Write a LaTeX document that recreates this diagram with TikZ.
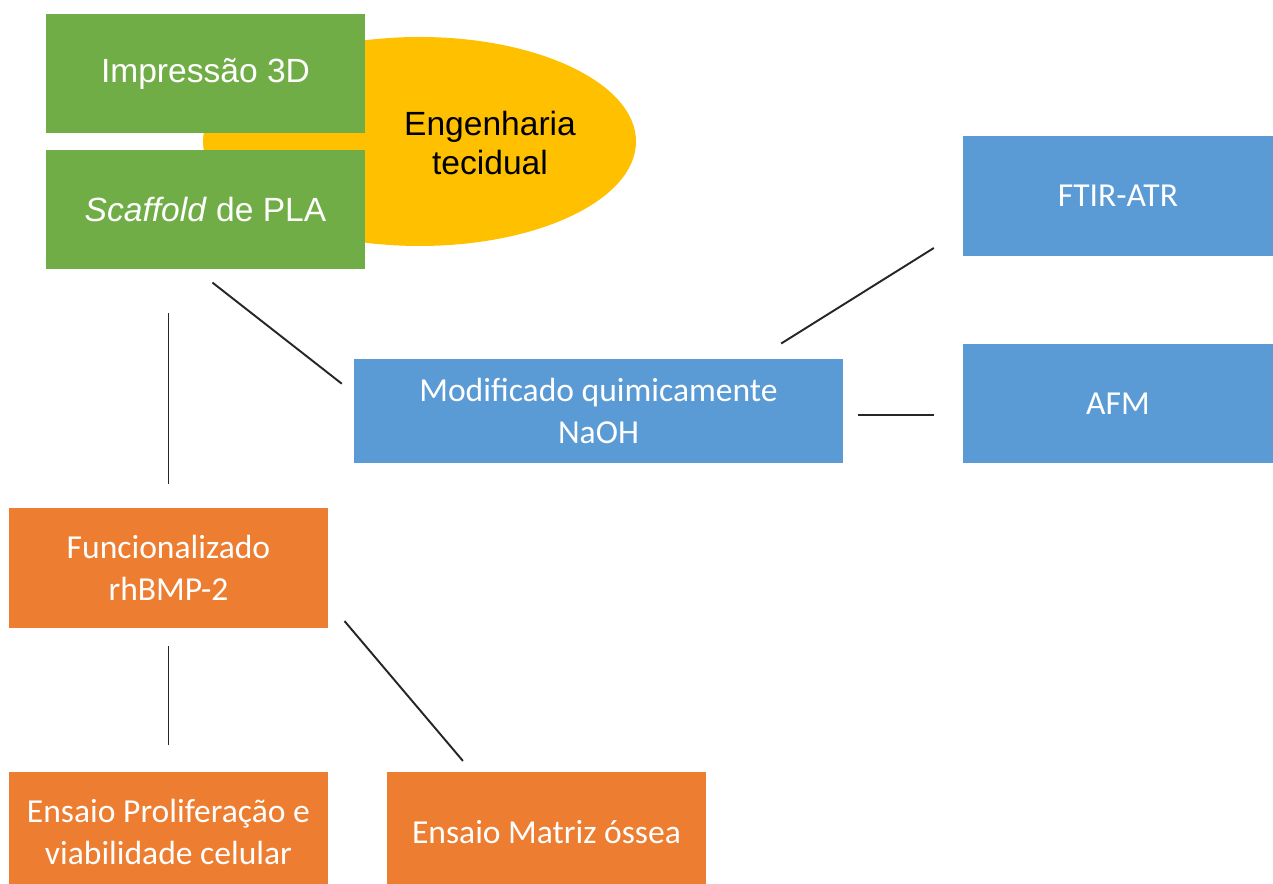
\documentclass[tikz,border=0pt]{standalone}
\usepackage{fontspec}
\newfontfamily\arialf{Liberation Sans}
\newfontfamily\calibrif{Carlito}
\usetikzlibrary{calc, positioning, shapes.geometric, backgrounds}
\definecolor{ogreen}{HTML}{70AD47}
\definecolor{oblue}{HTML}{5B9BD5}
\definecolor{oorange}{HTML}{ED7D31}
\definecolor{ogold}{HTML}{FFC000}
\tikzset{
  gbox/.style={fill=ogreen, text=white, minimum width=6.38cm, minimum height=2.38cm, font=\arialf\fontsize{19.1}{22}\selectfont},
  bbox/.style={fill=oblue, text=white, align=center, minimum width=6.2cm, minimum height=2.4cm, font=\calibrif\fontsize{19.1}{24}\selectfont},
  obox/.style={fill=oorange, text=white, align=center, minimum width=6.38cm, minimum height=2.4cm, font=\calibrif\fontsize{19.1}{24}\selectfont},
  link/.style={draw=black!85, line width=1.1pt},
}
\begin{document}
\begin{tikzpicture}
    \useasboundingbox (0,0) rectangle (25.46,17.68);
    \clip (0,0) rectangle (25.46,17.68);
    % top group
    \node[ellipse, fill=ogold, minimum width=8.66cm, minimum height=4.18cm] (eng) at (8.39,14.85) {};
    \node[align=center, font=\arialf\fontsize{19.1}{22}\selectfont] (engtxt) at (9.8,14.82) {Engenharia\\tecidual};
    \node[gbox] (imp) at (4.11,16.21) {Impressão 3D};
    \node[gbox] (scaf) at (4.11,13.49) {\textit{Scaffold} de PLA};
    % blue boxes
    \node[bbox, minimum width=9.78cm, minimum height=2.08cm] (mod) at (11.97,9.46) {Modificado quimicamente\\NaOH};
    \node[bbox] (ftir) at (22.36,13.76) {FTIR-ATR};
    \node[bbox, minimum height=2.38cm] (afm) at (22.36,9.61) {AFM};
    % orange boxes
    \node[obox] (func) at (3.37,6.32) {Funcionalizado\\rhBMP-2};
    \node[obox] (prol) at (3.37,1.04) {Ensaio Proliferação e\\viabilidade celular};
    \node[obox] (matriz) at (10.93,1.04) {Ensaio Matriz óssea};
    % connectors
    \draw[link, shorten <=0.43cm, shorten >=0.3cm] ([xshift=-0.2cm]scaf.south) -- ([yshift=0.36cm]mod.west);
    \draw[link, shorten <=0.88cm, shorten >=0.48cm] (scaf.south -| func.north) -- (func.north);
    \draw[link, shorten <=0.57cm, shorten >=0.68cm] ([xshift=3.17cm]mod.north) -- ([yshift=-0.68cm]ftir.west);
    \draw[link, shorten <=0.3cm, shorten >=0.58cm] ([yshift=-0.08cm]mod.east) -- ([yshift=-0.08cm]mod.east -| afm.west);
    \draw[link, shorten <=0.36cm, shorten >=0.54cm] (func.south) -- (func.south |- prol.north);
    \draw[link, shorten <=0.5cm, shorten >=0.28cm] ([yshift=-0.68cm]func.east) -- ([xshift=-1.49cm]matriz.north);
\end{tikzpicture}
\end{document}
